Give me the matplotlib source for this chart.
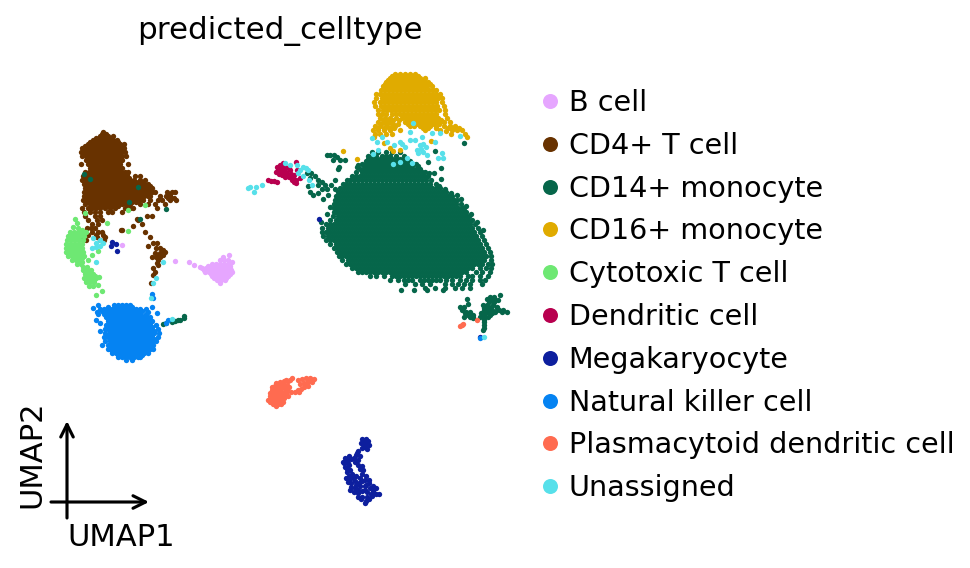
import matplotlib
matplotlib.use("Agg")
import matplotlib.pyplot as plt
from matplotlib.lines import Line2D

categories = ["B cell", "CD4+ T cell", "CD14+ monocyte", "CD16+ monocyte", "Cytotoxic T cell",
              "Dendritic cell", "Megakaryocyte", "Natural killer cell",
              "Plasmacytoid dendritic cell", "Unassigned"]
colors = ["#e6a6ff", "#683200", "#06664a", "#e0ab00", "#6ee873",
          "#b8004f", "#0d1f9e", "#0583f2", "#ff6b50", "#57e0ea"]
title = "predicted_celltype"
xlabel = "UMAP1"
ylabel = "UMAP2"

# Embedding values are read row by row: {umap2_row: [umap1 values]}
b_rows = {255: [229], 257: [223], 260: [220, 224, 228], 262: [189, 232], 261: [175],
          264: [212, 216, 220, 224, 228], 265: [194], 267: [200],
          266: [208, 214, 218, 222, 226, 230],
          268: [202, 206, 210, 214, 218, 222, 226, 230],
          270: [204, 208, 212, 216, 220, 224, 228, 231],
          272: [205, 209, 213, 217, 221, 225, 229, 232],
          274: [211, 215, 219, 223, 227, 230],
          276: [212, 216, 220, 224, 228], 278: [214, 218, 222, 226], 280: [217, 221, 225], 283: [220], 245: [122]}

cd4_rows = {
    132: [103], 136: [100, 104, 108, 113], 140: [93, 97, 101, 105, 109, 113, 117],
    144: [88, 92, 96, 100, 104, 108, 112, 116, 120, 124],
    148: [82, 86, 90, 94, 98, 102, 106, 110, 114, 118, 122, 124],
    152: [81, 85, 89, 93, 97, 101, 105, 109, 113, 117, 121, 125],
    156: [82, 86, 90, 94, 98, 102, 106, 110, 114, 118, 122, 126],
    160: [86, 90, 94, 98, 102, 106, 110, 114, 118, 122],
    164: [81, 88, 92, 96, 104, 108, 112, 116, 120, 128],
    168: [90, 94, 98, 102, 106, 110, 114, 118, 122],
    172: [85, 89, 93, 97, 101, 105, 109, 113, 117, 121, 125, 128],
    176: [83, 87, 91, 95, 99, 103, 107, 111, 115, 119, 123, 127, 135, 140],
    180: [82, 86, 90, 94, 98, 102, 106, 110, 114, 118, 122, 126, 130, 134, 140, 145],
    184: [84, 88, 92, 96, 100, 104, 108, 112, 116, 120, 124, 128, 132, 136, 140, 144, 148],
    188: [85, 89, 93, 97, 101, 105, 109, 113, 117, 121, 125, 129, 133, 137, 141, 145, 149, 152],
    192: [84, 88, 92, 96, 100, 104, 108, 112, 116, 120, 124, 128, 132, 136, 140, 144, 148, 152, 155, 167, 172, 175],
    196: [84, 88, 92, 96, 100, 104, 108, 112, 116, 120, 124, 128, 132, 136, 140, 144, 148, 150, 160, 166, 170],
    200: [83, 87, 91, 95, 99, 103, 107, 111, 115, 119, 123, 127, 131, 135, 139, 143, 150, 158, 162, 170, 176],
    204: [85, 90, 94, 98, 102, 106, 110, 114, 118, 122, 126, 130, 140, 148, 155, 165],
    208: [82, 88, 92, 96, 100, 105, 110, 115, 125, 130, 133, 157],
    212: [84, 90, 95, 100, 108, 112, 122], 216: [85, 95, 100, 147, 152], 219: [137],
    220: [88, 97, 102, 138], 224: [92, 98, 142], 226: [133], 228: [87, 91, 95], 230: [121, 122],
    232: [92, 98, 102, 145], 235: [88, 96, 103], 237: [83, 97, 105, 150], 240: [86, 100, 104],
    243: [157, 153], 246: [148], 248: [160, 156], 250: [163], 252: [165], 253: [155, 160], 255: [163, 158], 257: [152, 156, 160],
    260: [158], 263: [157], 265: [158], 268: [153], 272: [155], 275: [153], 283: [151],
    134: [102, 106], 138: [96, 100, 104, 108, 112], 142: [90, 94, 98, 102, 106, 110, 114, 118],
    146: [85, 91, 95, 99, 103, 107, 111, 115, 119, 123],
    150: [83, 87, 91, 95, 99, 103, 107, 111, 115, 119, 123],
    154: [84, 88, 92, 96, 100, 104, 108, 112, 116, 120],
    158: [88, 92, 96, 100, 104, 108, 112, 116, 120],
    162: [90, 94, 98, 102, 106, 110, 114, 118], 166: [92, 96, 100, 108, 112, 116],
    170: [92, 96, 100, 104, 108, 112, 116, 120],
    174: [87, 91, 95, 99, 103, 107, 111, 115, 119, 123, 127],
    178: [85, 89, 93, 97, 101, 105, 109, 113, 117, 121, 125, 129],
    182: [86, 90, 94, 98, 102, 106, 110, 114, 118, 122, 126, 130, 134, 138, 142],
    186: [86, 90, 94, 98, 102, 106, 110, 114, 118, 122, 126, 130, 134, 138, 142, 146, 150],
    190: [86, 90, 94, 98, 102, 106, 110, 114, 118, 122, 126, 130, 134, 138, 142, 146, 150],
    194: [86, 90, 94, 98, 102, 106, 110, 114, 118, 122, 126, 130, 134, 138, 142, 146, 170],
    198: [86, 90, 94, 98, 102, 106, 110, 114, 118, 122, 126, 130, 134, 138, 142, 168, 174],
    202: [88, 92, 96, 100, 104, 108, 112, 116, 120, 124, 128, 132, 136],
    206: [92, 96, 100, 104, 108, 112, 118, 128]}

cd14_rows = {
    151: [435], 152: [372, 378, 386, 392, 400], 155: [327, 330, 334], 157: [337], 160: [340, 333, 345],
    156: [368, 372, 376, 382, 386, 390, 396, 404],
    158.5: [368, 372, 376, 380, 384, 388, 392, 396, 400, 404],
    162: [428], 143: [464], 165: [358], 167: [339, 357], 169: [338], 168: [441],
    161: [366, 370, 374, 378, 382, 386, 390, 394, 398, 402, 406, 410],
    164: [362, 366, 370, 374, 378, 382, 386, 390, 394, 398, 402, 406, 410, 416],
    166.3: [364, 368, 372, 376, 380, 384, 388, 392, 396, 400, 404, 408, 412, 418],
    173: [311, 307, 429, 434],
    176: [315, 352, 356, 360, 364, 368, 372, 376, 380, 384, 388, 392, 396, 400, 404, 408, 412, 416, 420, 424, 428],
    172: [356, 362, 366, 370, 374, 378, 382, 386, 390, 394, 398, 402, 406, 410, 414, 418, 422, 425],
    168.5: [360, 364, 368, 372, 376, 380, 384, 388, 392, 396, 400, 404, 408, 412, 416, 420],
    178: [310], 179: [441],
    180: [318, 335, 347, 350, 354, 358, 362, 366, 370, 374, 378, 382, 386, 390, 394, 398, 402, 406, 410, 414, 418, 422, 426, 431],
    182: [322],
    184: [343, 346, 350, 354, 358, 362, 366, 370, 374, 378, 382, 386, 390, 394, 398, 402, 406, 410, 414, 418, 422, 426, 430, 436],
    185: [318, 325, 331], 186: [308, 439], 189: [335, 327, 322, 445],
    188: [340, 344, 348, 352, 356, 360, 364, 368, 372, 376, 380, 384, 388, 392, 396, 400, 404, 408, 412, 416, 420, 424, 428, 432, 436, 440],
    192: [310, 338, 342, 346, 350, 354, 358, 362, 366, 370, 374, 378, 382, 386, 390, 394, 398, 402, 406, 410, 414, 418, 422, 426, 430, 434, 438, 442, 446],
    193: [318, 451], 195: [313, 328, 457], 199: [323, 461],
    196: [336, 340, 344, 348, 352, 356, 360, 364, 368, 372, 376, 380, 384, 388, 392, 396, 400, 404, 408, 412, 416, 420, 424, 428, 432, 436, 440, 444, 448, 452],
    200: [335, 338, 342, 346, 350, 354, 358, 362, 366, 370, 374, 378, 382, 386, 390, 394, 398, 402, 406, 410, 414, 418, 422, 426, 430, 434, 438, 442, 446, 450, 454, 457],
    204: [334, 336, 340, 344, 348, 352, 356, 360, 364, 368, 372, 376, 380, 384, 388, 392, 396, 400, 404, 408, 412, 416, 420, 424, 428, 432, 436, 440, 444, 448, 452, 456, 461],
    206: [466], 207: [330],
    208: [334, 338, 342, 346, 350, 354, 358, 362, 366, 370, 374, 378, 382, 386, 390, 394, 398, 402, 406, 410, 414, 418, 422, 426, 430, 434, 438, 442, 446, 450, 454, 458, 462, 464],
    212: [334, 336, 340, 344, 348, 352, 356, 360, 364, 368, 372, 376, 380, 384, 388, 392, 396, 400, 404, 408, 412, 416, 420, 424, 428, 432, 436, 440, 444, 448, 452, 456, 460, 464, 466],
    214: [327, 471],
    216: [333, 338, 342, 346, 350, 354, 358, 362, 366, 370, 374, 378, 382, 386, 390, 394, 398, 402, 406, 410, 414, 418, 422, 426, 430, 434, 438, 442, 446, 450, 454, 458, 462, 466, 469],
    220: [330, 336, 340, 344, 348, 352, 356, 360, 364, 368, 372, 376, 380, 384, 388, 392, 396, 400, 404, 408, 412, 416, 420, 424, 428, 432, 436, 440, 444, 448, 452, 456, 460, 464, 468, 472],
    222: [321, 477],
    224: [326, 330, 334, 338, 342, 346, 350, 354, 358, 362, 366, 370, 374, 378, 382, 386, 390, 394, 398, 402, 406, 410, 414, 418, 422, 426, 430, 434, 438, 442, 446, 450, 454, 458, 462, 466, 470, 475],
    228: [322, 328, 332, 336, 340, 344, 348, 352, 356, 360, 364, 368, 372, 376, 380, 384, 388, 392, 396, 400, 404, 408, 412, 416, 420, 424, 428, 432, 436, 440, 444, 448, 452, 456, 460, 464, 468, 472, 478],
    230: [483],
    232: [322, 326, 330, 334, 338, 342, 346, 350, 354, 358, 362, 366, 370, 374, 378, 382, 386, 390, 394, 398, 402, 406, 410, 414, 418, 422, 426, 430, 434, 438, 442, 446, 450, 454, 458, 462, 466, 470, 474, 480],
    236: [323, 328, 332, 336, 340, 344, 348, 352, 356, 360, 364, 368, 372, 376, 380, 384, 388, 392, 396, 400, 404, 408, 412, 416, 420, 424, 428, 432, 436, 440, 444, 448, 452, 456, 460, 464, 468, 472, 476, 482],
    240: [326, 330, 334, 338, 342, 346, 350, 354, 358, 362, 366, 370, 374, 378, 382, 386, 390, 394, 398, 402, 406, 410, 414, 418, 422, 426, 430, 434, 438, 442, 446, 450, 454, 458, 462, 466, 470, 474, 478, 484],
    244: [330, 336, 340, 344, 348, 352, 356, 360, 364, 368, 372, 376, 380, 384, 388, 392, 396, 400, 404, 408, 412, 416, 420, 424, 428, 432, 436, 440, 444, 448, 452, 456, 460, 464, 468, 472, 476, 480, 486],
    248: [334, 338, 342, 346, 350, 354, 358, 362, 366, 370, 374, 378, 382, 386, 390, 394, 398, 402, 406, 410, 414, 418, 422, 426, 430, 434, 438, 442, 446, 450, 454, 458, 462, 466, 470, 474, 478, 482, 488],
    252: [337, 340, 344, 348, 352, 356, 360, 364, 368, 372, 376, 380, 384, 388, 392, 396, 400, 404, 408, 412, 416, 420, 424, 428, 432, 436, 440, 444, 448, 452, 456, 460, 464, 468, 472, 476, 480, 484, 490],
    256: [339, 342, 346, 350, 354, 358, 362, 366, 370, 374, 378, 382, 386, 390, 394, 398, 402, 406, 410, 414, 418, 422, 426, 430, 434, 438, 442, 446, 450, 454, 458, 462, 466, 470, 474, 478, 482, 486, 491],
    260: [342, 348, 352, 356, 360, 364, 368, 372, 376, 380, 384, 388, 392, 396, 400, 404, 408, 412, 416, 420, 424, 428, 432, 436, 440, 444, 448, 452, 456, 460, 464, 468, 472, 476, 480, 484, 491],
    264: [346, 350, 354, 358, 362, 366, 370, 374, 378, 382, 386, 390, 394, 398, 402, 406, 410, 414, 418, 422, 426, 430, 434, 438, 442, 446, 450, 454, 458, 462, 466, 470, 474, 478, 482, 488, 492],
    268: [352, 356, 360, 364, 368, 372, 376, 380, 384, 388, 392, 396, 400, 404, 408, 412, 416, 420, 424, 428, 432, 436, 440, 444, 448, 452, 456, 460, 464, 468, 472, 480, 486, 491],
    272: [358, 362, 366, 370, 374, 378, 382, 386, 390, 394, 398, 402, 406, 410, 414, 418, 422, 426, 430, 434, 438, 442, 446, 450, 454, 458, 462, 466, 476, 482, 490],
    276: [370, 376, 384, 392, 396, 400, 404, 408, 412, 416, 420, 424, 428, 432, 436, 440, 444, 448, 452, 456, 460, 468, 472, 480, 488],
    280: [390, 398, 404, 408, 412, 420, 424, 428, 432, 436, 440, 446, 452, 460, 466, 472, 480, 485],
    284: [405, 415, 422, 430, 445, 452, 458, 464, 470, 482],
    288: [425, 435, 445, 455, 462, 470],
    290: [401, 414, 427, 443],
    219: [140], 173.5: [84], 178.5: [90], 187: [138], 202: [129], 209: [166],
    295: [500], 297: [490, 494], 299: [467, 487], 300: [498, 492, 495], 302: [494, 489], 304: [468], 305: [483, 493, 487], 307: [460, 464, 497, 491], 308: [488, 497, 463, 484],
    310: [462, 484, 492, 499, 503], 312: [502, 507, 466, 488, 495, 470], 313: [465, 492, 481, 485], 315: [484, 468, 473, 490], 317: [470, 473, 480, 488, 464], 318: [473, 184, 484], 320: [484, 178, 180],
    321: [175], 322: [172, 484], 323: [166], 324: [163], 325: [484], 328: [484], 330: [483], 316: [184]}

cd16_rows = {
    74: [395, 400, 405, 410, 415], 76: [392, 397, 402, 407, 412, 418], 78: [390, 395, 400, 405, 410, 415, 420, 425],
    80: [388, 392, 396, 400, 404, 408, 412, 416, 420, 424],
    82: [386, 390, 394, 398, 402, 406, 410, 414, 418, 422, 428],
    84: [385, 389, 393, 397, 401, 405, 409, 413, 417, 421, 425, 430],
    86: [383, 387, 391, 395, 399, 403, 407, 411, 415, 419, 423, 427, 432],
    90: [381, 385, 389, 393, 397, 401, 405, 409, 413, 417, 421, 425, 429, 433, 436],
    94: [376, 380, 384, 388, 392, 396, 400, 404, 408, 412, 416, 420, 424, 428, 432, 436, 440],
    98: [376, 382, 386, 390, 394, 398, 402, 406, 410, 414, 418, 422, 426, 430, 434, 438, 442],
    102: [374, 380, 384, 388, 392, 396, 400, 404, 408, 412, 416, 420, 424, 428, 432, 436, 442],
    106: [375, 381, 385, 389, 393, 397, 401, 405, 409, 413, 417, 421, 425, 429, 433, 437, 444],
    110: [378, 383, 387, 391, 395, 399, 403, 407, 411, 415, 419, 423, 427, 431, 435, 439, 445],
    114: [378, 382, 386, 392, 396, 400, 404, 408, 412, 416, 420, 424, 428, 432, 436, 445],
    118: [380, 385, 390, 396, 402, 406, 410, 414, 418, 422, 426, 430, 434, 438, 447],
    120: [383, 388, 393, 399, 409, 413, 417, 421, 425, 429, 433, 437, 441],
    122: [378, 384, 390, 405, 410, 416, 420, 424, 428, 432, 436, 440, 444, 450],
    124: [381, 387, 393, 398, 408, 414, 418, 424, 429, 434, 439],
    126: [375, 380, 386, 392, 395, 410, 414, 420, 426, 430, 436, 444, 450, 455],
    128: [378, 384, 389, 394, 423, 428, 436, 448, 453, 459],
    130: [373, 378, 384, 390, 400, 425, 440, 452, 457, 462],
    134: [375, 380, 386, 392, 465, 451], 137: [467, 374], 131: [446],
    141: [431], 143: [384], 148: [390], 150: [400], 151: [343, 393], 159: [357]}

cytotoxic_rows = {
    213: [85], 219: [75], 223: [77, 107], 227: [73], 228: [78], 230: [82], 210: [128], 231: [128], 205: [145],
    232: [70, 74, 78, 82, 86], 234: [72, 76, 80], 236: [68, 72, 76, 80, 84], 238: [70, 74, 78], 240: [67, 71, 75, 79, 83],
    244: [66, 70, 74, 78, 82], 246: [68, 72, 76, 80], 248: [66, 70, 74, 78, 82], 250: [68, 72, 76, 80], 251: [98], 252: [66, 70, 74, 78, 83],
    254: [68, 72, 76, 80], 255: [92], 256: [68, 72, 76, 80, 84], 258: [74, 78, 82], 260: [72, 76, 80, 88], 262: [78, 82], 264: [77, 81],
    267: [83, 87], 270: [83, 87, 91], 272: [85, 89], 274: [85, 89, 93], 276: [87, 91, 95], 277: [99], 278: [84, 88, 92, 96], 280: [86, 90, 94], 282: [86, 90, 94],
    285: [98], 286: [89, 93], 291: [102], 295: [96], 340: [122], 343: [118]}

dendritic_rows = {
    162: [296], 163: [283], 165: [280, 284], 167: [277, 281, 285], 168: [285, 289], 170: [278, 282, 290, 297], 172: [276, 280, 286],
    174: [279, 283, 287, 291], 175: [282, 290, 294], 177: [285, 289], 178: [300, 293], 180: [268, 292, 296], 181: [271, 274], 182: [277, 294], 183: [296]}

mega_rows = {
    219: [319], 242: [112], 244: [116], 246: [111], 251: [117], 337: [480],
    439: [362, 366], 441: [364, 368], 443: [361, 366], 445: [369, 364], 447: [365], 448: [362], 449: [367], 451: [358], 453: [357], 455: [356],
    456: [360, 349], 458: [354, 345], 459: [351], 460: [347, 358], 462: [355, 343], 463: [344, 348], 465: [358, 349], 466: [362],
    467: [345], 469: [347, 360], 470: [363, 350], 472: [347], 474: [352, 362], 476: [349, 366, 356], 478: [346, 360, 353],
    480: [365, 349, 369], 481: [355, 362], 482: [348], 483: [351, 369, 359], 485: [356, 366], 486: [360, 365, 373], 487: [351], 488: [355, 370, 376],
    490: [358, 365, 350], 491: [362, 373], 492: [354, 367], 493: [358], 494: [371, 376, 379], 496: [372],
    497: [358, 362, 367], 499: [361, 369], 501: [366], 503: [365]}

nk_rows = {
    294: [152], 298: [153], 305: [98, 114, 118, 122, 126, 130], 307: [152, 108, 116, 124, 132], 308: [93], 312: [97, 148], 313: [157],
    309: [100, 104, 108, 112, 116, 120, 124, 128, 132, 136, 140, 146],
    311: [102, 106, 110, 114, 118, 122, 126, 130, 134, 138, 142],
    314: [98, 104, 108, 112, 116, 120, 124, 128, 132, 136, 140, 146],
    315.5: [106, 110, 114, 118, 122, 126, 130, 134, 138, 142, 146],
    317: [106, 110, 114, 118, 122, 126, 130, 134, 138, 142, 146, 150],
    319: [108, 112, 116, 120, 124, 128, 132, 136, 140, 144, 148],
    320: [96, 168],
    321: [108, 112, 116, 120, 124, 128, 132, 136, 140, 144, 148, 152],
    323: [100, 166, 110, 114, 118, 122, 126, 130, 134, 138, 142, 146, 150],
    325: [106, 110, 114, 118, 122, 126, 130, 134, 138, 142, 146, 150, 156],
    327: [108, 112, 116, 120, 124, 128, 132, 136, 140, 144, 148, 152],
    329: [105, 108, 112, 116, 120, 124, 128, 132, 136, 140, 144, 148, 152, 158],
    331: [100, 110, 114, 118, 122, 126, 130, 134, 138, 142, 146, 150, 154],
    333: [105, 110, 114, 118, 122, 126, 130, 134, 138, 142, 146, 150, 154, 159],
    335: [108, 112, 116, 120, 124, 128, 132, 136, 140, 144, 148, 152],
    337: [104, 108, 112, 116, 120, 124, 128, 132, 136, 140, 144, 148, 152, 158],
    339: [110, 114, 118, 122, 126, 130, 134, 138, 142, 146, 150, 154],
    341: [105, 110, 114, 118, 122, 126, 130, 134, 138, 142, 146, 150, 156],
    343: [112, 116, 120, 124, 128, 132, 136, 140, 144, 148, 152],
    345: [102, 108, 112, 116, 120, 124, 128, 132, 136, 140, 144, 148, 153],
    347: [110, 114, 118, 122, 126, 130, 134, 138, 142, 146, 150],
    349: [108, 110, 114, 118, 122, 126, 130, 134, 138, 142, 146, 150, 153],
    351: [112, 116, 120, 124, 128, 132, 136, 140, 144, 148],
    353: [112, 116, 120, 124, 128, 132, 136, 140, 144, 148],
    355: [118, 122, 126, 130, 134, 138, 142],
    357: [118, 122, 126, 130, 134, 138, 140], 360: [126, 132], 337.5: [480]}

pdc_rows = {
    320: [477], 324: [463], 325: [462], 326: [460],
    378: [292, 306, 310], 379: [302, 314], 380: [298, 286, 290, 308, 312], 381: [284, 288], 382: [280, 308, 312], 383: [304, 276, 283],
    384: [276, 280, 300], 385: [283, 306, 287], 386: [279, 308, 275], 387: [289, 304, 272], 388: [275, 285, 281], 389: [301, 278], 390: [280, 272, 287, 298], 391: [275],
    392: [272, 276, 291, 295, 299, 284], 393: [286, 270, 279], 394: [282, 274], 396: [270, 274, 278, 288, 284],
    398: [284, 271, 276, 280], 399: [280], 400: [268, 272, 276], 402: [283, 270, 274, 279], 404: [273, 278, 281], 406: [276]}

unassigned_rows = {
    123: [413], 132: [410], 133: [440, 432], 136: [460], 137: [382, 422], 138: [372], 140: [415, 410],
    142: [400, 435, 377, 387], 144: [423, 402], 145: [420, 394], 147: [405, 426], 149: [421], 150: [417, 378], 152: [423], 153: [442, 418], 154: [373],
    155: [427], 158: [438, 443, 407], 162: [400], 163: [412, 285], 164: [393], 165: [290, 297],
    167: [303], 168: [306], 170: [300, 308], 173: [298], 176: [303], 180: [309], 185: [262, 312],
    187: [250, 256], 188: [248], 192: [254], 238: [93], 240: [100], 243: [96, 103], 246: [100],
    247: [96], 248: [92], 262: [96, 163], 278: [156], 283: [153], 298: [151], 319: [172], 337: [484]}

series = [b_rows, cd4_rows, cd14_rows, cd16_rows, cytotoxic_rows, dendritic_rows,
          mega_rows, nk_rows, pdc_rows, unassigned_rows]

plt.rcParams["font.family"] = "DejaVu Sans"
dpi = 150
fig = plt.figure(figsize=(970 / dpi, 568 / dpi), dpi=dpi)
ax = fig.add_axes([0, 0, 1, 1])
ax.set_xlim(0, 970)
ax.set_ylim(568, 0)
ax.axis("off")

for rows, color in zip(series, colors):
    xs = [x for y, vals in rows.items() for x in vals]
    ys = [y for y, vals in rows.items() for _ in vals]
    ax.scatter(xs, ys, s=6.6, color=color, linewidths=0, zorder=2)

ax.text(280, 31, title, fontsize=14.9, ha="center", va="center")

handles = [Line2D([], [], linestyle="", marker="o", markersize=7.2, color=c, markeredgewidth=0)
           for c in colors]
ax.legend(handles, categories, loc="upper left", bbox_to_anchor=(532 / 970, 1 - 89 / 568),
          frameon=False, fontsize=13.75, labelspacing=0.517, handletextpad=0.03,
          borderpad=0, borderaxespad=0, handlelength=1.25)

arrow = dict(arrowstyle="->", lw=1.5, color="black", mutation_scale=15, shrinkA=0, shrinkB=0)
ax.annotate("", xy=(149, 502), xytext=(51, 502), arrowprops=arrow)
ax.annotate("", xy=(67, 421), xytext=(67, 518), arrowprops=arrow)
ax.text(67.5, 537, xlabel, fontsize=14.7, ha="left", va="center")
ax.text(32, 454, ylabel, fontsize=14.7, ha="center", va="center", rotation=90)

fig.savefig("out.png", dpi=dpi)
